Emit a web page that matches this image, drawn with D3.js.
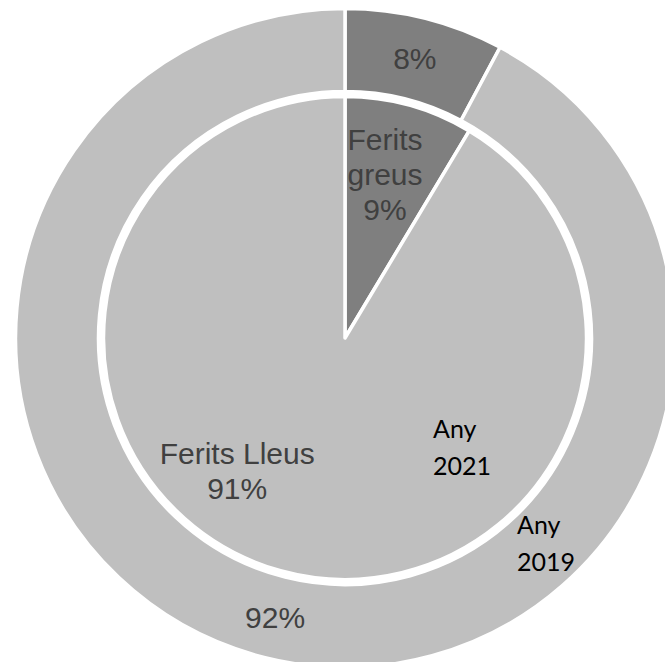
<!DOCTYPE html>
<html>
<head>
<meta charset="utf-8">
<script src="https://cdn.jsdelivr.net/npm/d3@7"></script>
<style>
  html, body { margin: 0; padding: 0; background: #fff; overflow: hidden; }
  svg { display: block; }
</style>
</head>
<body>
<svg id="chart" width="665" height="662"></svg>
<script>
// Two-year comparison: inner pie = 2021, outer ring = 2019.
const categories  = ["Ferits greus", "Ferits Lleus"];
const values2021  = [8.6, 91.4];   // inner pie
const values2019  = [7.8, 92.2];   // outer ring
const seriesNames = ["Any 2021", "Any 2019"];

const W = 665, H = 662;
const cx = 345, cy = 338;
const stroke = 3.5;

const pieR      = 241.5;
const ringInner = 246.5;
const ringOuter = 329.5;

const color = d3.scaleOrdinal()
  .domain(categories)
  .range(["#7f7f7f", "#bfbfbf"]);

const svg = d3.select("#chart");
const g = svg.append("g").attr("transform", `translate(${cx},${cy})`);

const pie = d3.pie().sort(null).value(d => d.value);
const fmt = v => Math.round(v) + "%";

const inner = pie(categories.map((c, i) => ({ cat: c, value: values2021[i] })));
const outer = pie(categories.map((c, i) => ({ cat: c, value: values2019[i] })));

const pieArc  = d3.arc().innerRadius(0).outerRadius(pieR);
const ringArc = d3.arc().innerRadius(ringInner).outerRadius(ringOuter);

// outer ring (2019)
g.selectAll("path.ring")
  .data(outer)
  .enter()
  .append("path")
  .attr("class", "ring")
  .attr("d", ringArc)
  .attr("fill", d => color(d.data.cat))
  .attr("stroke", "#fff")
  .attr("stroke-width", stroke)
  .attr("stroke-linejoin", "miter");

// inner pie (2021)
g.selectAll("path.pie")
  .data(inner)
  .enter()
  .append("path")
  .attr("class", "pie")
  .attr("d", pieArc)
  .attr("fill", d => color(d.data.cat))
  .attr("stroke", "#fff")
  .attr("stroke-width", stroke)
  .attr("stroke-linejoin", "round");

const labelFont = "'Liberation Sans', Arial, sans-serif";
const labelSize = 30, labelLead = 35, capH = 21.5;

// draws a centred multi-line block whose visual middle sits at (x, y)
function block(lines, x, y) {
  const first = y - (lines.length - 1) * labelLead / 2 + capH / 2;
  const t = g.append("text")
    .attr("text-anchor", "middle")
    .attr("font-family", labelFont)
    .attr("font-size", labelSize)
    .attr("fill", "#404040");
  lines.forEach((ln, i) => {
    t.append("tspan").attr("x", x).attr("y", first + i * labelLead).text(ln);
  });
}

const polar = (r, deg) => {
  const a = deg * Math.PI / 180;
  return [r * Math.sin(a), -r * Math.cos(a)];
};

// inner labels: category + value (Excel best-fit placement)
const innerPlace = [[169, 13.7], [171, 219.1]];
inner.forEach((d, i) => {
  const [x, y] = polar(innerPlace[i][0], innerPlace[i][1]);
  const name = i === 0 ? d.data.cat.split(" ") : [d.data.cat];
  block([...name, fmt(d.data.value)], x, y);
});

// outer labels: value only, at the ring centroid
outer.forEach(d => {
  const [x, y] = ringArc.centroid(d);
  block([fmt(d.data.value)], x, y);
});

// series name annotations
const seriesPlace = [[88, 100], [172, 196]];
seriesNames.forEach((s, i) => {
  const t = g.append("text")
    .attr("font-family", "Lato, 'Open Sans', sans-serif")
    .attr("font-size", 25)
    .attr("fill", "#000");
  s.split(" ").forEach((ln, j) => {
    t.append("tspan")
      .attr("x", seriesPlace[i][0])
      .attr("y", seriesPlace[i][1] + j * 37)
      .text(ln);
  });
});
</script>
</body>
</html>
